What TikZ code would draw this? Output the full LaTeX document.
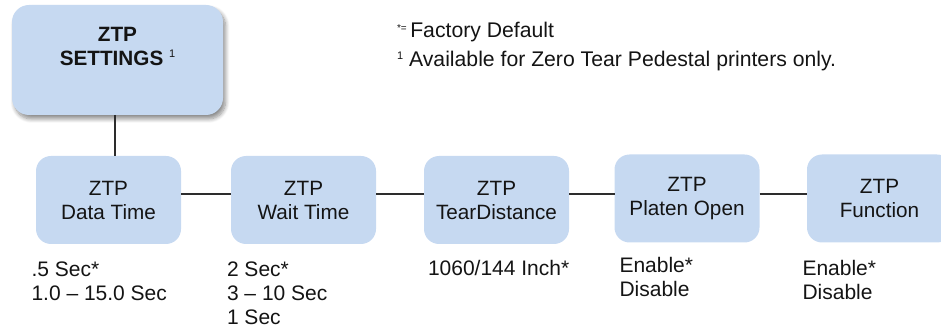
\documentclass[tikz,border=0pt]{standalone}
\usepackage{fontspec}
\setmainfont{Liberation Sans}
\usetikzlibrary{shadows.blur}
\definecolor{boxblue}{RGB}{198,217,241}
\definecolor{txt}{RGB}{20,20,20}
\definecolor{linec}{RGB}{45,45,45}
\begin{document}
\begin{tikzpicture}[x=1pt,y=-1pt,
  every node/.style={inner sep=0pt,outer sep=0pt,text=txt},
  menubox/.style={fill=boxblue,rounded corners=15pt,minimum width=145pt,minimum height=88pt,align=center,
    font=\fontsize{20.7}{24}\selectfont},
  topbox/.style={fill=boxblue,rounded corners=17pt,minimum width=211pt,minimum height=110pt,
    blur shadow={shadow xshift=2.5pt,shadow yshift=-4pt,shadow blur steps=8,shadow blur radius=4pt,shadow opacity=45}},
  optlabel/.style={anchor=base west,align=left,font=\fontsize{21}{24}\selectfont},
  note/.style={anchor=base west,font=\fontsize{21.2}{24}\selectfont},
  conn/.style={draw=linec,line width=1.2pt}]
\useasboundingbox (0,0) rectangle (941,328);
% top box
\node[topbox] (top) at (117.5,60) {};
\node[align=center,font=\fontsize{20.7}{24.5}\selectfont\bfseries] (toptext) at (117.5,46.5)
  {ZTP\\SETTINGS {\fontsize{11}{11}\selectfont\mdseries\raisebox{8pt}{1}}};
% menu boxes
\node[menubox] (b1) at (108.5,200) {ZTP\\Data Time};
\node[menubox] (b2) at (303.5,200) {ZTP\\Wait Time};
\node[menubox] (b3) at (496.5,200) {ZTP\\TearDistance};
\node[menubox] (b4) at (687,198.5) {ZTP\\Platen Open};
\node[menubox] (b5) at (879.5,198.5) {ZTP\\Function};
% connectors
\coordinate (topfoot) at (115,115);
\coordinate (b1head) at (115,156);
\draw[conn,line width=1.5pt] (topfoot) -- (b1head);
\draw[conn] (b1.east |- 0,194) -- (b2.west |- 0,194);
\draw[conn] (b2.east |- 0,194) -- (b3.west |- 0,194);
\draw[conn] (b3.east |- 0,194) -- (b4.west |- 0,194);
\draw[conn] (b4.east |- 0,194) -- (b5.west |- 0,194);
% option labels (base = baseline of last line)
\node[optlabel] (o1) at (31.5,300) {.5 Sec*\\1.0 -- 15.0 Sec};
\node[optlabel] (o2) at (227,324) {2 Sec*\\3 -- 10 Sec\\1 Sec};
\node[optlabel] (o3) at (428,275.5) {1060/144 Inch*};
\node[optlabel] (o4) at (619.5,296.5) {Enable*\\Disable};
\node[optlabel] (o5) at (802.5,299.5) {Enable*\\Disable};
% footnotes
\node[note] (n1) at (397,38) {{\fontsize{10}{10}\selectfont\raisebox{6pt}{*=}}\,Factory Default};
\node[note] (n2) at (397,67) {{\fontsize{11}{11}\selectfont\raisebox{7pt}{1}}\hspace{6pt}Available for Zero Tear Pedestal printers only.};
\end{tikzpicture}
\end{document}
